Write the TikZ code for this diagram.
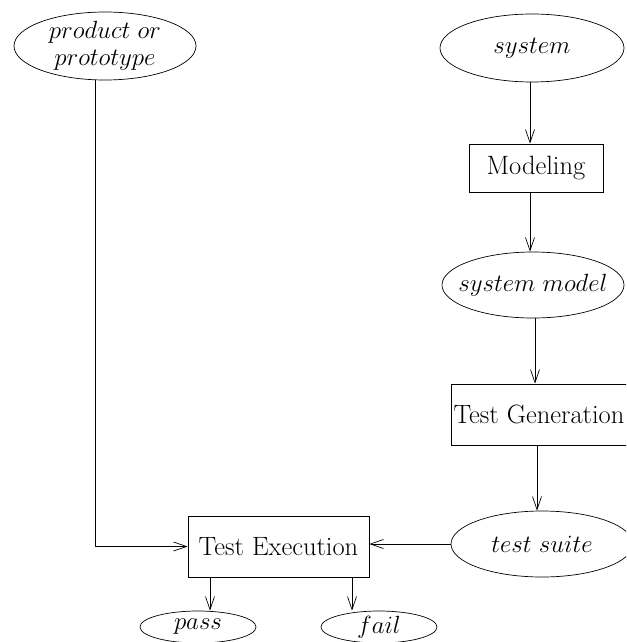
\documentclass[tikz,border=0pt]{standalone}
\usetikzlibrary{shapes.geometric,arrows.meta}
\begin{document}
\begin{tikzpicture}[x=1pt,y=-1pt,
 ell/.style={draw,ellipse,inner xsep=-20pt,inner ysep=-6pt,font=\fontsize{24}{28}\selectfont},
 box/.style={draw,rectangle,inner sep=0pt,font=\fontsize{26.5}{30}\selectfont},
 arr/.style={-{Straight Barb[length=13pt,width=9pt]}},
 line width=0.7pt]
\useasboundingbox (0,0) rectangle (626,642);
\clip (0,0) rectangle (626,642);
\node[ell,minimum width=182pt,minimum height=68pt,align=center] (prod) at (105,46) {$product\ or$\\[-1pt]$prototype$};
\node[ell,minimum width=184pt,minimum height=68pt] (sys) at (532,48) {$system$};
\node[box,minimum width=134pt,minimum height=48pt] (mod) at (536,168) {Modeling};
\node[ell,minimum width=182pt,minimum height=66pt] (smod) at (533,285) {$system\ model$};
\node[box,minimum width=176pt,minimum height=61pt] (tg) at (539,414.5) {Test Generation};
\node[ell,minimum width=182pt,minimum height=66pt] (ts) at (542,544) {$test\ suite$};
\node[box,minimum width=181pt,minimum height=61pt] (te) at (278.5,546.5) {Test Execution};
\node[ell,minimum width=116pt,minimum height=32pt] (pass) at (198,627) {$pass$};
\node[ell,minimum width=116pt,minimum height=32pt] (fail) at (379,627) {$fail$};
\draw[arr] ([xshift=-2pt]sys.south) -- ([xshift=-2pt]sys.south |- mod.north);
\draw[arr] ([xshift=-6pt]mod.south) -- ([xshift=-6pt]mod.south |- smod.north);
\draw[arr] ([xshift=2pt]smod.south) -- ([xshift=2pt]smod.south |- tg.north);
\draw[arr] ([xshift=-2pt]tg.south) -- ([xshift=-2pt]tg.south |- ts.north);
\draw[arr] (ts.west) -- (ts.west -| te.east);
\draw[arr] ([xshift=-10pt]prod.south) |- (te.west);
\draw[arr] ([xshift=12pt]pass.north |- te.south) -- ([xshift=12pt]pass.north);
\draw[arr] ([xshift=-27pt]fail.north |- te.south) -- ([xshift=-27pt]fail.north);
\end{tikzpicture}
\end{document}
